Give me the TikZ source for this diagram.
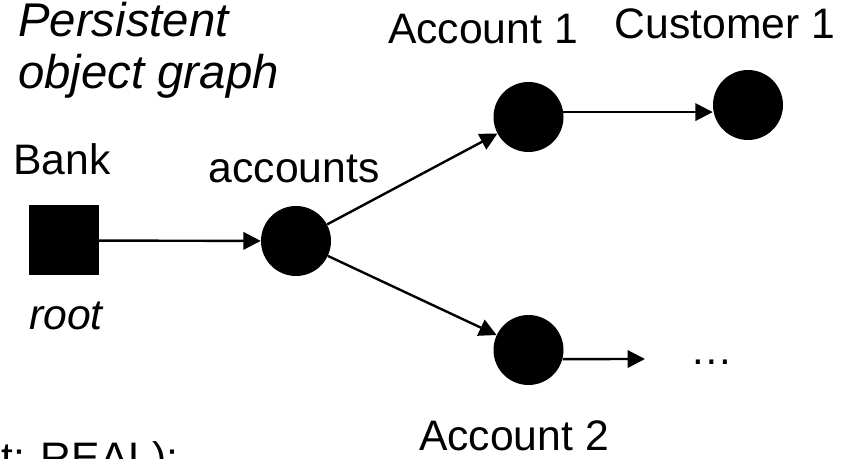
\documentclass[tikz,border=0pt]{standalone}
\usepackage{fontspec}
\setmainfont{Liberation Sans}
\usetikzlibrary{arrows.meta}
\tikzset{
	obj/.style={circle, fill=black, inner sep=0pt, minimum size=52.5pt},
	rootobj/.style={rectangle, fill=black, inner sep=0pt, minimum size=52.5pt},
	txt/.style={inner sep=0pt, anchor=base, font=\fontsize{32}{38}\selectfont},
	ref/.style={-{Triangle[length=13pt,width=13pt]}, line width=1.8pt}
}
\begin{document}
\begin{tikzpicture}[x=0.75pt,y=-0.75pt]
		\useasboundingbox (0,0) rectangle (844,459);
		\clip (0,0) rectangle (844,459);

		% title, a bit larger than the labels
		\node[txt, anchor=base west, font=\fontsize{35.5}{42}\selectfont\itshape] (title) at (18,37) {Persistent};
		\node[txt, anchor=base west, font=\fontsize{35.5}{42}\selectfont\itshape] (title2) at (18,89) {object graph};

		\node[rootobj] (Bank) at (63.5,240.5) {};
		\node[obj] (acc) at (296,241) {};
		\node[obj] (A1) at (528.5,117) {};
		\node[obj] (C1) at (748,105) {};
		\node[obj] (A2) at (528.5,350) {};
		\coordinate (rest) at (645,359);

		\node[txt] (BankL) at (62,175) {Bank};
		\node[txt] (rootL) at (66,330) {\itshape root};
		\node[txt] (accL) at (294,183) {accounts};
		\node[txt] (A1L) at (483,44) {Account 1};
		\node[txt] (C1L) at (725,39) {Customer 1};
		\node[txt] (A2L) at (514,451) {Account 2};
		\node[txt] (dots) at (712,365) {…};
		\node[txt, anchor=base west] (decl) at (1,473) {t: REAL);};

		\draw[ref] (Bank) -- (acc);
		\draw[ref] (acc) -- (A1);
		\draw[ref] (acc) -- (A2);
		\draw[ref] (A1.8) -- (A1.8 -| C1.west);
		\draw[ref] (A2.-15) -- (rest);
\end{tikzpicture}
\end{document}
